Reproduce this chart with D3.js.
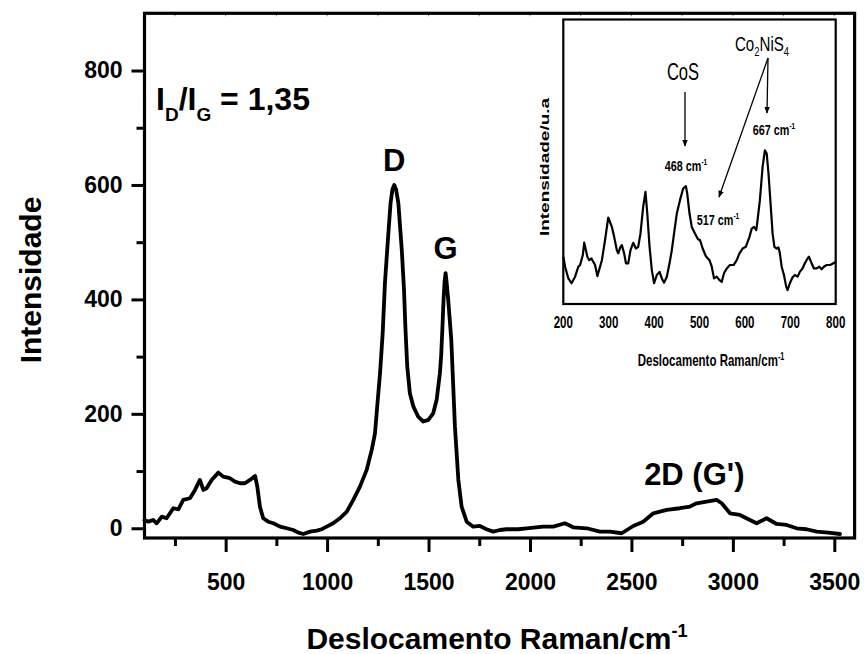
<!DOCTYPE html>
<html>
<head>
<meta charset="utf-8">
<script src="https://cdn.jsdelivr.net/npm/d3@7/dist/d3.min.js"></script>
<style>
  html, body { margin: 0; padding: 0; background: #fff; }
  svg { display: block; font-family: "Liberation Sans", Arial, sans-serif; }
</style>
</head>
<body>
<svg id="chart" width="866" height="654"></svg>
<script>
// Raman spectrum (main panel)
const shift = [
  100, 119, 143, 160, 185, 209, 242, 267, 291, 324, 349, 373, 390, 406, 431, 464,
  488, 521, 546, 571, 595, 620, 645, 656, 669, 685, 710, 735, 768, 801, 833, 858,
  883, 916, 949, 973, 998, 1030, 1063, 1097, 1129, 1162, 1195, 1220, 1236, 1247,
  1261, 1274, 1285, 1302, 1313, 1322, 1331, 1340, 1351, 1368, 1379, 1386, 1395,
  1408, 1425, 1449, 1474, 1499, 1523, 1540, 1556, 1562, 1568, 1574, 1579, 1584,
  1589, 1597, 1612, 1630, 1647, 1663, 1688, 1720, 1753, 1786, 1819, 1852, 1885,
  1918, 1942, 1984, 2065, 2115, 2172, 2213, 2279, 2345, 2394, 2452, 2509, 2558,
  2608, 2674, 2739, 2788, 2821, 2871, 2920, 2945, 2986, 3035, 3084, 3117, 3166,
  3216, 3265, 3314, 3363, 3413, 3470, 3528
];
const intensity = [
  14.5, 11.6, 14.5, 8.7, 20.3, 17.5, 35, 33.2, 49.5, 52.5, 67, 84.5, 67, 70, 84.5, 97.3,
  90.3, 87.5, 81.5, 78.7, 78.7, 84.5, 91.5, 72.8, 37.8, 17.5, 11.5, 8.7, 2.8, 0, -3, -7.7,
  -10, -5.9, -4.2, -1.7, 2.8, 8.7, 17.5, 29, 49.5, 72.8, 102, 137, 166, 213,
  271, 341, 428, 516, 569, 592, 600, 592, 569, 487, 417, 350, 283,
  236, 213, 195, 186.5, 189.5, 201, 224.5, 271, 300, 347, 400, 430, 446,
  430, 399, 330, 178, 84.5, 37.8, 11.5, 2.8, 4, -1.7, -5.9, -3, -1.7,
  -1.7, -1.7, 0, 2.8, 2.8, 8.7, 1.7, 0, -5.9, -5.9, -8.7, 4, 11.5,
  26.2, 32, 35, 37.8, 43.7, 46.5, 49.5, 43.7, 26.2, 23.3, 14.5, 8.7, 17.5,
  7.5, 5.8, 0, -1.7, -5.9, -7.7, -10
];
const xMajorTicks = [500, 1000, 1500, 2000, 2500, 3000, 3500];
const xMinorTicks = [250, 750, 1250, 1750, 2250, 2750, 3250];
const yMajorTicks = [0, 200, 400, 600, 800];
const yMinorTicks = [100, 300, 500, 700];

// Inset: low-wavenumber region (arbitrary units)
const insetShift = [
  200, 204, 211, 218, 226, 233, 237, 243, 246, 253, 257, 262, 270, 275, 285, 292,
  299, 307, 312, 318, 321, 326, 329, 334, 338, 343, 348, 354, 360, 365, 370, 376,
  381, 385, 390, 395, 400, 406, 412, 417, 422, 428, 434, 439, 444, 450, 457, 464,
  470, 473, 478, 483, 490, 497, 501, 507, 514, 522, 527, 532, 538, 544, 549, 554,
  560, 567, 575, 582, 588, 595, 602, 610, 615, 620, 625, 627, 633, 639, 644, 648,
  652, 657, 661, 665, 670, 674, 677, 681, 686, 691, 694, 699, 705, 710, 716, 721,
  727, 732, 738, 741, 747, 752, 758, 764, 769, 774, 780, 788, 795, 800
];
const insetIntensity = [
  16.6, 13.1, 9.0, 7.3, 9.6, 13.1, 13.7, 17.2, 21.6, 16.6, 15.4, 16.0, 13.7, 9.8, 15.4, 22.5,
  30.4, 27.1, 23.6, 18.9, 17.8, 20.1, 20.7, 17.8, 14.3, 14.3, 18.9, 21.5, 19.5, 20.1, 24.8, 34.2,
  39.4, 31.8, 20.1, 11.9, 7.3, 10.2, 11.3, 9.0, 7.5, 9.6, 14.3, 18.9, 24.8, 31.8, 36.5, 40.6,
  41.4, 38.8, 31.8, 27.1, 24.8, 22.7, 22.5, 19.5, 16.8, 15.4, 13.1, 9.0, 9.6, 8.4, 7.8, 10.8,
  12.5, 13.7, 13.7, 15.4, 17.8, 19.5, 20.1, 23.6, 26.5, 27.1, 26.0, 28.3, 36.5, 48.2, 54.0, 52.9,
  45.8, 34.2, 24.8, 20.1, 19.5, 19.9, 17.8, 13.1, 10.2, 6.1, 4.9, 7.3, 9.4, 10.2, 9.6, 11.3,
  12.5, 14.3, 16.0, 16.6, 14.3, 12.5, 12.5, 13.1, 12.2, 13.1, 13.7, 13.7, 14.3, 14.9
];
const insetTicks = [200, 300, 400, 500, 600, 700, 800];

const svg = d3.select("#chart");

// ---------- main panel ----------
const M = { left: 144.5, right: 854.6, top: 13.3, bottom: 538 };
const x = d3.scaleLinear().domain([100, 3600]).range([M.left, M.right]);
const y = d3.scaleLinear().domain([-17, 900]).range([M.bottom, M.top]);

const spectrum = shift.map((s, i) => [s, intensity[i]]);
const line = d3.line().x(d => x(d[0])).y(d => y(d[1]));

svg.append("path")
  .datum(spectrum)
  .attr("d", line)
  .attr("fill", "none")
  .attr("stroke", "#000")
  .attr("stroke-width", 3.8)
  .attr("stroke-linejoin", "round")
  .attr("stroke-linecap", "round");

function styleAxis(g, width) {
  g.select(".domain").remove();
  g.selectAll(".tick line").attr("stroke", "#000").attr("stroke-width", width);
}

// bottom axis
const gxMinor = svg.append("g").attr("transform", `translate(0,${M.bottom})`)
  .call(d3.axisBottom(x).tickValues(xMinorTicks).tickSize(8).tickFormat(""));
styleAxis(gxMinor, 3);
const gx = svg.append("g").attr("transform", `translate(0,${M.bottom})`)
  .call(d3.axisBottom(x).tickValues(xMajorTicks).tickSize(14).tickPadding(22).tickFormat(d3.format("d")));
styleAxis(gx, 3);
gx.selectAll(".tick text")
  .attr("fill", "#000")
  .style("font-size", "23px")
  .style("font-weight", "bold");

// left axis
const gyMinor = svg.append("g").attr("transform", `translate(${M.left},0)`)
  .call(d3.axisLeft(y).tickValues(yMinorTicks).tickSize(8).tickFormat(""));
styleAxis(gyMinor, 3);
const gy = svg.append("g").attr("transform", `translate(${M.left},0)`)
  .call(d3.axisLeft(y).tickValues(yMajorTicks).tickSize(13).tickPadding(9).tickFormat(d3.format("d")));
styleAxis(gy, 3);
gy.selectAll(".tick text")
  .attr("fill", "#000")
  .style("font-size", "23px")
  .style("font-weight", "bold");

// small inward marks on the top edge
svg.append("g").selectAll("line")
  .data(xMajorTicks.concat(xMinorTicks))
  .join("line")
  .attr("x1", d => x(d)).attr("x2", d => x(d))
  .attr("y1", M.top).attr("y2", M.top + 3)
  .attr("stroke", "#888").attr("stroke-width", 1);

// frame
svg.append("rect")
  .attr("x", M.left).attr("y", M.top)
  .attr("width", M.right - M.left).attr("height", M.bottom - M.top)
  .attr("fill", "none").attr("stroke", "#000").attr("stroke-width", 3.2);

// axis titles
svg.append("text")
  .attr("x", 497).attr("y", 649)
  .attr("text-anchor", "middle")
  .style("font-size", "30px").style("font-weight", "bold")
  .call(t => {
    t.append("tspan").text("Deslocamento Raman/cm");
    t.append("tspan").attr("dy", -12).style("font-size", "18px").text("-1");
  });

svg.append("text")
  .attr("transform", "translate(41,280) rotate(-90)")
  .attr("text-anchor", "middle")
  .style("font-size", "30px").style("font-weight", "bold")
  .text("Intensidade");

// band annotations
svg.append("text")
  .attr("x", 156).attr("y", 109.5)
  .style("font-size", "32px").style("font-weight", "bold")
  .call(t => {
    t.append("tspan").text("I");
    t.append("tspan").attr("dy", 11).style("font-size", "19px").text("D");
    t.append("tspan").attr("dy", -11).text("/I");
    t.append("tspan").attr("dy", 11).style("font-size", "19px").text("G");
    t.append("tspan").attr("dy", -11).text(" = 1,35");
  });

const bandLabels = [
  { text: "D", at: 1331, v: 600, gap: 14 },
  { text: "G", at: 1584, v: 446, gap: 14 },
  { text: "2D (G')", at: 2810, v: 49.5, gap: 15 }
];
svg.append("g").selectAll("text")
  .data(bandLabels)
  .join("text")
  .attr("x", d => x(d.at))
  .attr("y", d => y(d.v) - d.gap)
  .attr("text-anchor", "middle")
  .style("font-size", "31px").style("font-weight", "bold")
  .text(d => d.text);

// ---------- inset ----------
const I = { left: 563.3, right: 835.7, top: 19.5, bottom: 304 };
const SQ = 0.72; // horizontal squeeze of inset lettering
const ix = d3.scaleLinear().domain([200, 800]).range([I.left, I.right]);
const iy = d3.scaleLinear().domain([0, 100]).range([I.bottom, I.top]);

svg.append("rect")
  .attr("x", I.left).attr("y", I.top)
  .attr("width", I.right - I.left).attr("height", I.bottom - I.top)
  .attr("fill", "#fff").attr("stroke", "#000").attr("stroke-width", 2.2);

const insetData = insetShift.map((s, i) => [s, insetIntensity[i]]);
svg.append("path")
  .datum(insetData)
  .attr("d", d3.line().x(d => ix(d[0])).y(d => iy(d[1])))
  .attr("fill", "none")
  .attr("stroke", "#000")
  .attr("stroke-width", 2.2)
  .attr("stroke-linejoin", "round");

function squeezedText(px, py, size, weight) {
  const g = svg.append("g").attr("transform", `translate(${px},${py}) scale(${SQ},1)`);
  return g.append("text")
    .attr("text-anchor", "middle")
    .style("font-size", size + "px")
    .style("font-weight", weight);
}

// inset tick labels
insetTicks.forEach(t => {
  squeezedText(ix(t), 328, 16, "bold").text(t);
});

// inset axis titles
squeezedText(711, 366, 16, "bold").call(t => {
  t.append("tspan").text("Deslocamento Raman/cm");
  t.append("tspan").attr("dy", -6).style("font-size", "10px").text("-1");
});
svg.append("g")
  .attr("transform", "translate(549,167) rotate(-90) scale(1,0.72)")
  .append("text")
  .attr("text-anchor", "middle")
  .style("font-size", "19px").style("font-weight", "bold")
  .text("Intensidade/u.a");

// phase labels
squeezedText(683, 80, 23, "normal").text("CoS");
squeezedText(762, 51, 21, "normal").call(t => {
  t.append("tspan").text("Co");
  t.append("tspan").attr("dy", 5).style("font-size", "13px").text("2");
  t.append("tspan").attr("dy", -5).text("NiS");
  t.append("tspan").attr("dy", 5).style("font-size", "13px").text("4");
});

// peak position labels
const peakLabels = [
  { label: "468", px: 686, py: 171 },
  { label: "667", px: 774, py: 135 },
  { label: "517", px: 718, py: 225 }
];
peakLabels.forEach(p => {
  squeezedText(p.px, p.py, 15, "bold").call(t => {
    t.append("tspan").text(p.label + " cm");
    t.append("tspan").attr("dy", -6).style("font-size", "9px").text("-1");
  });
});

// arrows
svg.append("defs").append("marker")
  .attr("id", "head")
  .attr("viewBox", "0 0 10 10")
  .attr("refX", 9).attr("refY", 5)
  .attr("markerWidth", 7).attr("markerHeight", 7)
  .attr("markerUnits", "userSpaceOnUse")
  .attr("orient", "auto")
  .append("path").attr("d", "M0,1 L10,5 L0,9 Z").attr("fill", "#000");

const arrows = [
  [685, 92, 685, 146],
  [768, 58, 767, 113],
  [768, 58, 719, 197]
];
svg.append("g").selectAll("line")
  .data(arrows)
  .join("line")
  .attr("x1", d => d[0]).attr("y1", d => d[1])
  .attr("x2", d => d[2]).attr("y2", d => d[3])
  .attr("stroke", "#000").attr("stroke-width", 1.3)
  .attr("marker-end", "url(#head)");
</script>
</body>
</html>
